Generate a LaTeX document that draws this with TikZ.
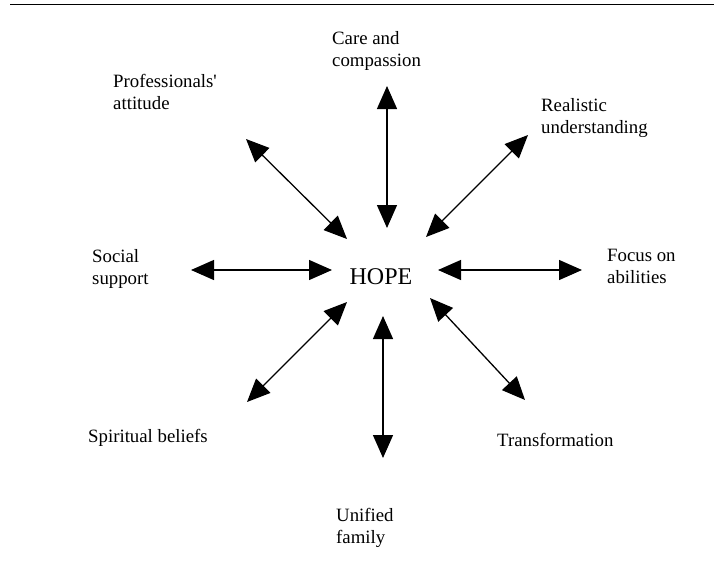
\documentclass[tikz,border=0pt]{standalone}
\usepackage{fontspec}
\setmainfont{Liberation Serif}
\usetikzlibrary{arrows.meta}
\newcommand{\straightquote}{\XeTeXglyph\XeTeXglyphindex "quotesingle"\relax}
\tikzset{
  lbl/.style={inner sep=0pt, anchor=base west, align=left, font=\fontsize{18.8}{22.5}\selectfont},
  link/.style={line width=1.3pt, {Triangle[length=23pt,width=20pt]}-{Triangle[length=23pt,width=20pt]}},
  rule/.style={line width=1.2pt}
}
\begin{document}
\begin{tikzpicture}[x=1pt,y=-1pt]
\useasboundingbox (0,0) rectangle (714,571);
\coordinate (r1) at (10,4.5);
\coordinate (r2) at (714,4.5);
\draw[rule] (r1) -- (r2);

\node[inner sep=0pt, anchor=base, font=\fontsize{24}{28}\selectfont] (hope) at (381,284) {HOPE};

\node[lbl] (care) at (332,66.5) {Care and\\compassion};
\node[lbl] (prof) at (113,109.5) {Professionals\straightquote\\attitude};
\node[lbl] (real) at (541,133.5) {Realistic\\understanding};
\node[lbl] (soc) at (92,284.5) {Social\\support};
\node[lbl] (foc) at (607,283.5) {Focus on\\abilities};
\node[lbl] (spir) at (88,442) {Spiritual beliefs};
\node[lbl] (trans) at (497,446) {Transformation};
\node[lbl] (uni) at (336,543.5) {Unified\\family};

\coordinate (t1) at (387,86);  \coordinate (t2) at (387,228);
\coordinate (tl1) at (246,139); \coordinate (tl2) at (347,239);
\coordinate (tr1) at (528,135); \coordinate (tr2) at (426,237);
\coordinate (l1) at (191,270); \coordinate (l2) at (332,270);
\coordinate (rr1) at (438,270); \coordinate (rr2) at (582,270);
\coordinate (bl1) at (347,302); \coordinate (bl2) at (247,402);
\coordinate (b1) at (383,316); \coordinate (b2) at (383,458);
\coordinate (br1) at (430,298); \coordinate (br2) at (525,400);

\draw[link] (t1) -- (t2);
\draw[link] (tl1) -- (tl2);
\draw[link] (tr1) -- (tr2);
\draw[link] (l1) -- (l2);
\draw[link] (rr1) -- (rr2);
\draw[link] (bl1) -- (bl2);
\draw[link] (b1) -- (b2);
\draw[link] (br1) -- (br2);
\end{tikzpicture}
\end{document}
